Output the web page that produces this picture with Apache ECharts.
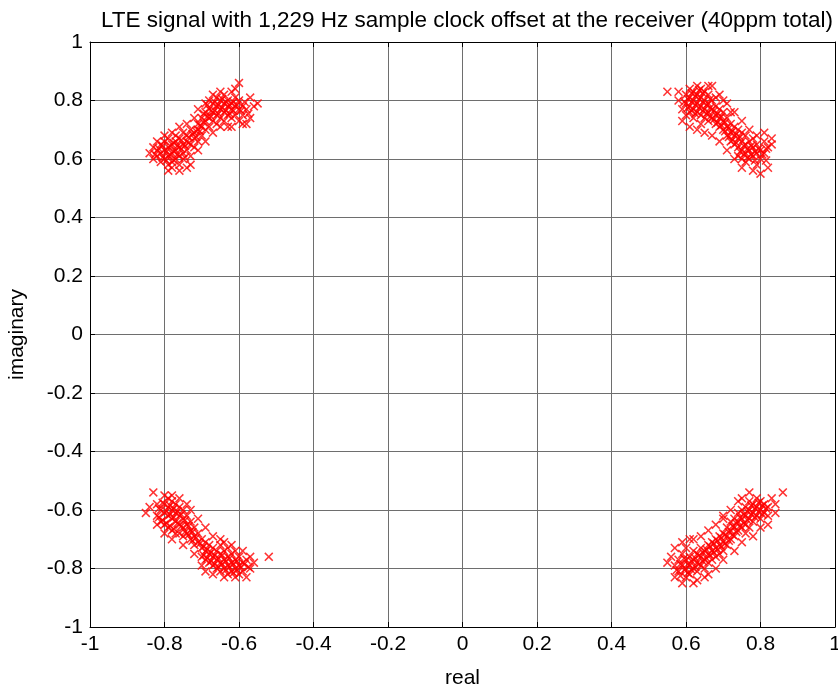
<!DOCTYPE html>
<html>
<head>
<meta charset="utf-8">
<script src="https://cdn.jsdelivr.net/npm/echarts@6/dist/echarts.min.js"></script>
<style>
  html, body { margin: 0; padding: 0; background: #fff; }
  #chart { width: 838px; height: 687px; }
</style>
</head>
<body>
<div id="chart"></div>
<script>
// constellation points, one array per quadrant
var pointsQ1 = [
  [0.55,0.83],[0.58,0.80],[0.59,0.77],[0.60,0.82],[0.60,0.79],[0.60,0.75],[0.61,0.84],[0.61,0.81],[0.61,0.78],[0.61,0.76],
  [0.62,0.83],[0.62,0.80],[0.62,0.77],[0.62,0.74],[0.63,0.85],[0.63,0.82],[0.63,0.79],[0.63,0.76],[0.64,0.84],[0.64,0.81],
  [0.64,0.78],[0.64,0.75],[0.64,0.72],[0.65,0.83],[0.65,0.80],[0.65,0.77],[0.65,0.74],[0.66,0.82],[0.66,0.79],[0.66,0.76],
  [0.66,0.73],[0.67,0.85],[0.67,0.80],[0.67,0.77],[0.67,0.74],[0.68,0.78],[0.68,0.75],[0.68,0.72],[0.69,0.77],[0.69,0.74],
  [0.69,0.71],[0.70,0.76],[0.70,0.73],[0.70,0.70],[0.71,0.74],[0.71,0.71],[0.71,0.68],[0.72,0.72],[0.72,0.69],[0.72,0.66],
  [0.73,0.71],[0.73,0.68],[0.73,0.65],[0.74,0.70],[0.74,0.67],[0.74,0.64],[0.74,0.61],[0.75,0.69],[0.75,0.66],[0.75,0.63],
  [0.75,0.60],[0.76,0.68],[0.76,0.65],[0.76,0.62],[0.76,0.59],[0.77,0.66],[0.77,0.63],[0.77,0.60],[0.78,0.67],[0.78,0.64],
  [0.78,0.61],[0.79,0.65],[0.79,0.62],[0.79,0.58],[0.80,0.63],[0.80,0.60],[0.80,0.55],[0.81,0.66],[0.81,0.62],[0.82,0.64],
  [0.82,0.57],[0.83,0.65],[0.72,0.76],[0.68,0.81],[0.58,0.83],
  [0.595,0.795],[0.605,0.805],[0.605,0.775],[0.615,0.825],[0.615,0.795],[0.615,0.765],[0.625,0.815],[0.625,0.785],[0.625,0.755],[0.635,0.805],
  [0.635,0.775],[0.635,0.835],[0.645,0.795],[0.645,0.765],[0.645,0.825],[0.655,0.785],[0.655,0.755],[0.665,0.775],[0.665,0.745],[0.665,0.805],
  [0.675,0.765],[0.675,0.735],[0.685,0.755],[0.685,0.725],[0.695,0.745],[0.695,0.715],[0.705,0.725],[0.705,0.695],[0.715,0.705],[0.715,0.675],
  [0.725,0.695],[0.725,0.665],[0.735,0.685],[0.735,0.655],[0.745,0.675],[0.745,0.625],[0.755,0.645],[0.755,0.615],[0.765,0.635],[0.765,0.605],
  [0.775,0.645],[0.775,0.615],[0.785,0.625],[0.785,0.595],[0.795,0.635],[0.805,0.615],[0.815,0.635],[0.815,0.595],
  [0.66,0.85],[0.69,0.82],[0.71,0.79],[0.73,0.76],[0.75,0.73],[0.77,0.70],[0.79,0.68],[0.81,0.69],[0.83,0.67],[0.70,0.80],
  [0.59,0.73],[0.61,0.71],[0.63,0.70],[0.65,0.69],[0.67,0.68],[0.69,0.66],[0.71,0.63],[0.73,0.60],[0.75,0.57],[0.78,0.56]
];
var pointsQ2 = [
  [-0.84,0.62],[-0.83,0.60],[-0.83,0.64],[-0.82,0.61],[-0.82,0.63],[-0.81,0.59],[-0.81,0.62],[-0.81,0.65],[-0.80,0.60],[-0.80,0.63],
  [-0.80,0.66],[-0.79,0.58],[-0.79,0.61],[-0.79,0.64],[-0.79,0.67],[-0.78,0.59],[-0.78,0.62],[-0.78,0.65],[-0.78,0.57],[-0.77,0.60],
  [-0.77,0.63],[-0.77,0.66],[-0.77,0.68],[-0.76,0.58],[-0.76,0.61],[-0.76,0.64],[-0.76,0.67],[-0.75,0.60],[-0.75,0.62],[-0.75,0.65],
  [-0.75,0.69],[-0.74,0.57],[-0.74,0.63],[-0.74,0.66],[-0.74,0.68],[-0.73,0.61],[-0.73,0.65],[-0.73,0.70],[-0.72,0.64],[-0.72,0.67],
  [-0.72,0.69],[-0.71,0.66],[-0.71,0.70],[-0.71,0.72],[-0.70,0.68],[-0.70,0.71],[-0.70,0.74],[-0.69,0.70],[-0.69,0.73],[-0.69,0.76],
  [-0.68,0.71],[-0.68,0.74],[-0.68,0.77],[-0.68,0.80],[-0.67,0.73],[-0.67,0.76],[-0.67,0.79],[-0.66,0.72],[-0.66,0.75],[-0.66,0.78],
  [-0.66,0.81],[-0.65,0.74],[-0.65,0.77],[-0.65,0.80],[-0.64,0.73],[-0.64,0.76],[-0.64,0.79],[-0.64,0.82],[-0.63,0.75],[-0.63,0.78],
  [-0.63,0.80],[-0.62,0.74],[-0.62,0.77],[-0.62,0.79],[-0.62,0.83],[-0.61,0.75],[-0.61,0.78],[-0.61,0.81],[-0.60,0.73],[-0.60,0.77],
  [-0.60,0.80],[-0.60,0.86],[-0.59,0.75],[-0.59,0.78],[-0.58,0.72],[-0.58,0.77],[-0.57,0.81],[-0.56,0.78],[-0.55,0.79],[-0.61,0.84],
  [-0.63,0.71],
  [-0.825,0.615],[-0.815,0.635],[-0.805,0.605],[-0.805,0.645],[-0.795,0.625],[-0.795,0.595],[-0.785,0.645],[-0.785,0.615],[-0.775,0.595],[-0.775,0.625],
  [-0.775,0.655],[-0.765,0.615],[-0.765,0.645],[-0.755,0.635],[-0.755,0.665],[-0.745,0.605],[-0.745,0.645],[-0.735,0.675],[-0.735,0.655],[-0.725,0.685],
  [-0.715,0.695],[-0.705,0.715],[-0.695,0.725],[-0.685,0.745],[-0.675,0.765],[-0.675,0.745],[-0.665,0.765],[-0.665,0.795],[-0.655,0.755],[-0.655,0.785],
  [-0.645,0.775],[-0.645,0.805],[-0.635,0.765],[-0.635,0.795],[-0.625,0.755],[-0.625,0.785],[-0.615,0.795],[-0.615,0.765],[-0.605,0.785],[-0.595,0.765],
  [-0.585,0.795],[-0.575,0.755],[-0.685,0.785],[-0.695,0.755],[-0.705,0.695],[-0.715,0.675],
  [-0.82,0.66],[-0.80,0.68],[-0.78,0.69],[-0.76,0.71],[-0.74,0.72],[-0.72,0.74],[-0.71,0.77],[-0.69,0.79],[-0.67,0.82],[-0.65,0.83],
  [-0.79,0.56],[-0.76,0.56],[-0.73,0.58],[-0.71,0.63],[-0.69,0.66],[-0.67,0.69],[-0.65,0.71],[-0.62,0.71],[-0.59,0.72],[-0.57,0.74]
];
var pointsQ3 = [
  [-0.83,-0.54],[-0.80,-0.55],[-0.85,-0.61],[-0.82,-0.58],[-0.82,-0.62],[-0.81,-0.60],[-0.81,-0.64],[-0.80,-0.58],[-0.80,-0.61],[-0.80,-0.65],
  [-0.79,-0.56],[-0.79,-0.59],[-0.79,-0.62],[-0.79,-0.66],[-0.78,-0.57],[-0.78,-0.60],[-0.78,-0.63],[-0.78,-0.67],[-0.77,-0.58],[-0.77,-0.61],
  [-0.77,-0.64],[-0.77,-0.68],[-0.76,-0.59],[-0.76,-0.62],[-0.76,-0.65],[-0.76,-0.68],[-0.75,-0.60],[-0.75,-0.63],[-0.75,-0.66],[-0.75,-0.69],
  [-0.74,-0.62],[-0.74,-0.65],[-0.74,-0.68],[-0.73,-0.64],[-0.73,-0.67],[-0.73,-0.70],[-0.72,-0.66],[-0.72,-0.69],[-0.72,-0.72],[-0.71,-0.68],
  [-0.71,-0.71],[-0.70,-0.70],[-0.70,-0.73],[-0.70,-0.76],[-0.69,-0.71],[-0.69,-0.74],[-0.69,-0.77],[-0.68,-0.72],[-0.68,-0.75],[-0.68,-0.78],
  [-0.67,-0.73],[-0.67,-0.76],[-0.67,-0.79],[-0.66,-0.74],[-0.66,-0.77],[-0.66,-0.80],[-0.65,-0.72],[-0.65,-0.75],[-0.65,-0.78],[-0.65,-0.81],
  [-0.64,-0.74],[-0.64,-0.77],[-0.64,-0.80],[-0.63,-0.73],[-0.63,-0.76],[-0.63,-0.79],[-0.63,-0.82],[-0.62,-0.75],[-0.62,-0.78],[-0.62,-0.81],
  [-0.61,-0.74],[-0.61,-0.77],[-0.61,-0.80],[-0.60,-0.76],[-0.60,-0.79],[-0.60,-0.82],[-0.59,-0.78],[-0.59,-0.81],[-0.58,-0.77],[-0.57,-0.80],
  [-0.56,-0.78],[-0.52,-0.76],[-0.64,-0.71],[-0.69,-0.81],[-0.74,-0.58],[-0.84,-0.59],
  [-0.815,-0.595],[-0.815,-0.625],[-0.805,-0.575],[-0.805,-0.635],[-0.795,-0.605],[-0.795,-0.645],[-0.785,-0.585],[-0.785,-0.615],[-0.785,-0.655],[-0.775,-0.595],
  [-0.775,-0.625],[-0.775,-0.665],[-0.765,-0.605],[-0.765,-0.645],[-0.755,-0.615],[-0.755,-0.655],[-0.745,-0.635],[-0.745,-0.675],[-0.735,-0.655],[-0.735,-0.685],
  [-0.725,-0.675],[-0.725,-0.705],[-0.715,-0.695],[-0.705,-0.715],[-0.695,-0.725],[-0.695,-0.755],[-0.685,-0.735],[-0.685,-0.765],[-0.675,-0.745],[-0.675,-0.775],
  [-0.665,-0.755],[-0.665,-0.785],[-0.655,-0.765],[-0.655,-0.795],[-0.645,-0.755],[-0.645,-0.785],[-0.635,-0.775],[-0.635,-0.805],[-0.625,-0.765],[-0.625,-0.795],
  [-0.615,-0.785],[-0.615,-0.815],[-0.605,-0.775],[-0.605,-0.805],[-0.595,-0.795],[-0.585,-0.785],[-0.575,-0.795],
  [-0.76,-0.56],[-0.73,-0.60],[-0.71,-0.63],[-0.69,-0.66],[-0.67,-0.69],[-0.65,-0.70],[-0.62,-0.72],[-0.59,-0.74],[-0.57,-0.76],[-0.78,-0.55],
  [-0.82,-0.65],[-0.80,-0.68],[-0.78,-0.70],[-0.75,-0.72],[-0.72,-0.75],[-0.70,-0.79],[-0.67,-0.82],[-0.64,-0.83],[-0.61,-0.83],[-0.58,-0.83]
];
var pointsQ4 = [
  [0.55,-0.78],[0.56,-0.76],[0.57,-0.83],[0.57,-0.79],[0.58,-0.77],[0.58,-0.81],[0.59,-0.85],[0.59,-0.75],[0.59,-0.79],[0.60,-0.73],
  [0.60,-0.77],[0.60,-0.80],[0.60,-0.83],[0.61,-0.76],[0.61,-0.79],[0.61,-0.82],[0.62,-0.74],[0.62,-0.77],[0.62,-0.80],[0.63,-0.84],
  [0.63,-0.75],[0.63,-0.78],[0.63,-0.81],[0.64,-0.73],[0.64,-0.76],[0.64,-0.79],[0.65,-0.74],[0.65,-0.77],[0.65,-0.80],[0.66,-0.72],
  [0.66,-0.75],[0.66,-0.78],[0.67,-0.71],[0.67,-0.74],[0.67,-0.77],[0.68,-0.70],[0.68,-0.73],[0.68,-0.76],[0.69,-0.69],[0.69,-0.72],
  [0.69,-0.75],[0.70,-0.68],[0.70,-0.71],[0.70,-0.74],[0.71,-0.66],[0.71,-0.69],[0.71,-0.72],[0.72,-0.64],[0.72,-0.67],[0.72,-0.70],
  [0.73,-0.63],[0.73,-0.66],[0.73,-0.69],[0.74,-0.61],[0.74,-0.64],[0.74,-0.67],[0.75,-0.60],[0.75,-0.63],[0.75,-0.66],[0.76,-0.59],
  [0.76,-0.62],[0.76,-0.65],[0.76,-0.68],[0.77,-0.57],[0.77,-0.60],[0.77,-0.63],[0.77,-0.66],[0.78,-0.58],[0.78,-0.61],[0.78,-0.64],
  [0.79,-0.56],[0.79,-0.59],[0.79,-0.62],[0.80,-0.57],[0.80,-0.60],[0.80,-0.63],[0.81,-0.58],[0.81,-0.61],[0.82,-0.59],[0.82,-0.62],
  [0.83,-0.56],[0.84,-0.58],[0.86,-0.54],[0.74,-0.57],[0.70,-0.62],[0.66,-0.82],[0.61,-0.70],
  [0.575,-0.805],[0.585,-0.785],[0.585,-0.825],[0.595,-0.765],[0.595,-0.805],[0.605,-0.785],[0.605,-0.815],[0.615,-0.775],[0.615,-0.805],[0.625,-0.765],
  [0.625,-0.795],[0.635,-0.755],[0.635,-0.785],[0.645,-0.745],[0.645,-0.775],[0.655,-0.735],[0.655,-0.765],[0.665,-0.725],[0.665,-0.755],[0.675,-0.715],
  [0.675,-0.745],[0.685,-0.705],[0.685,-0.735],[0.695,-0.695],[0.695,-0.725],[0.705,-0.685],[0.705,-0.715],[0.715,-0.675],[0.715,-0.705],[0.725,-0.655],
  [0.725,-0.685],[0.735,-0.645],[0.735,-0.675],[0.745,-0.625],[0.745,-0.655],[0.755,-0.615],[0.755,-0.645],[0.765,-0.605],[0.765,-0.635],[0.775,-0.585],
  [0.775,-0.615],[0.785,-0.595],[0.785,-0.625],[0.795,-0.575],[0.795,-0.605],[0.805,-0.585],[0.805,-0.615],[0.815,-0.595],
  [0.57,-0.73],[0.59,-0.71],[0.62,-0.70],[0.64,-0.69],[0.66,-0.67],[0.68,-0.65],[0.70,-0.63],[0.72,-0.60],[0.75,-0.56],[0.77,-0.54],
  [0.62,-0.85],[0.65,-0.83],[0.68,-0.80],[0.70,-0.77],[0.73,-0.74],[0.75,-0.71],[0.78,-0.69],[0.80,-0.66],[0.82,-0.65],[0.84,-0.61]
];

var font = 'Liberation Sans, Arial, sans-serif';
var xMark = 'path://M0,1.2L1.2,0L5,3.8L8.8,0L10,1.2L6.2,5L10,8.8L8.8,10L5,6.2L1.2,10L0,8.8L3.8,5Z';

var chart = echarts.init(document.getElementById('chart'));

function axis(pos, showLabel) {
  return {
    type: 'value',
    position: pos,
    min: -1,
    max: 1,
    interval: 0.2,
    axisLine: { show: true, onZero: false, lineStyle: { color: '#000', width: 1 } },
    axisTick: { show: true, inside: true, length: 5, lineStyle: { color: '#000' } },
    axisLabel: { show: showLabel, color: '#000', fontFamily: font, fontSize: 21, margin: 7 },
    splitLine: { show: showLabel, lineStyle: { color: '#6e6e6e', width: 1 } }
  };
}

var xBottom = axis('bottom', true);
xBottom.name = 'real';
xBottom.nameLocation = 'middle';
xBottom.nameGap = 41;
xBottom.nameTextStyle = { color: '#000', fontFamily: font, fontSize: 21 };

var yLeft = axis('left', true);
yLeft.name = 'imaginary';
yLeft.nameLocation = 'middle';
yLeft.nameGap = 62;
yLeft.nameTextStyle = { color: '#000', fontFamily: font, fontSize: 21 };

chart.setOption({
  animation: false,
  backgroundColor: '#fff',
  title: {
    text: 'LTE signal with 1,229 Hz sample clock offset at the receiver (40ppm total)',
    left: 96,
    top: 4,
    textStyle: { color: '#000', fontFamily: font, fontSize: 22.5, fontWeight: 'normal' }
  },
  grid: { left: 90, right: 3, top: 42, bottom: 60, containLabel: false, outerBoundsMode: 'none' },
  xAxis: [xBottom, axis('top', false)],
  yAxis: [yLeft, axis('right', false)],
  series: [{
    type: 'scatter',
    symbol: xMark,
    symbolSize: 9,
    itemStyle: { color: '#ff0000' },
    data: [].concat(pointsQ1, pointsQ2, pointsQ3, pointsQ4)
  }]
});
</script>
</body>
</html>
